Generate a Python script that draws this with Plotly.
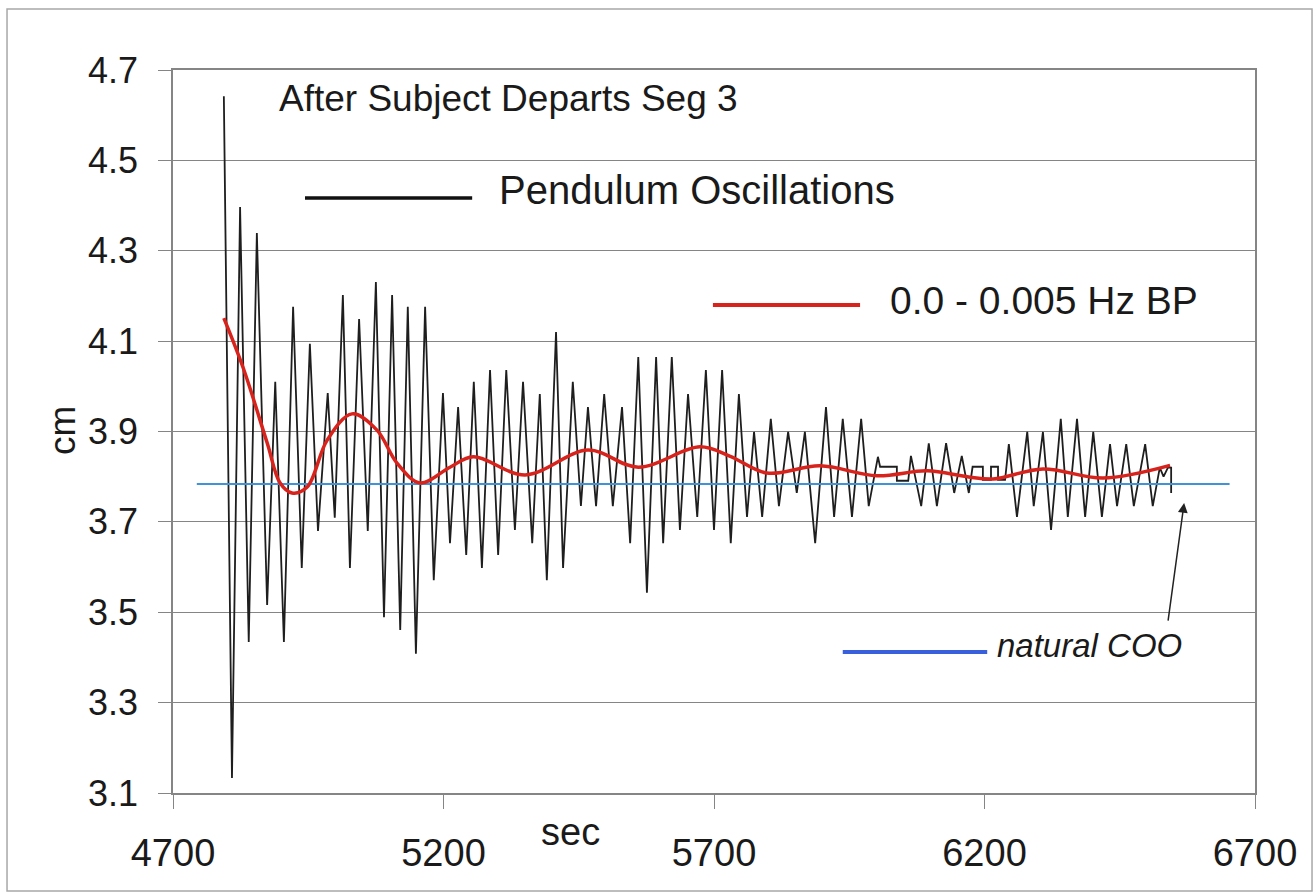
import plotly.graph_objects as go

# ---- data ----
osc_t = [4794, 4809, 4824, 4840, 4855, 4874, 4889, 4905, 4922, 4938,
         4953, 4968, 4986, 4999, 5014, 5027, 5044, 5060, 5075, 5090,
         5105, 5120, 5134, 5149, 5166, 5182, 5199, 5212, 5227, 5242,
         5256, 5271, 5286, 5301, 5316, 5332, 5347, 5364, 5378, 5391,
         5408, 5421, 5439, 5454, 5467, 5482, 5497, 5513, 5530, 5545,
         5560, 5576, 5593, 5606, 5622, 5637, 5652, 5669, 5685, 5700,
         5715, 5731, 5746, 5761, 5774, 5789, 5805, 5820, 5837, 5853,
         5868, 5887, 5907, 5922, 5938, 5955, 5972, 5986,
         6003, 6007, 6038, 6038, 6059, 6064, 6083, 6097, 6112, 6129,
         6144, 6158, 6171, 6178, 6197, 6197, 6212, 6212, 6225, 6225,
         6238, 6245, 6260, 6279, 6291, 6308, 6323, 6341, 6354, 6371,
         6386, 6401, 6417, 6432, 6445, 6462, 6476, 6497, 6511, 6524,
         6531, 6539, 6545, 6545]
osc_cm = [4.642, 3.133, 4.397, 3.434, 4.339, 3.516, 4.010, 3.434, 4.176, 3.598,
          4.094, 3.680, 3.985, 3.709, 4.202, 3.598, 4.149, 3.680, 4.231, 3.489,
          4.202, 3.461, 4.176, 3.408, 4.176, 3.571, 3.985, 3.653, 3.954, 3.627,
          4.010, 3.598, 4.036, 3.627, 4.036, 3.682, 4.010, 3.653, 3.983, 3.571,
          4.120, 3.598, 4.010, 3.735, 3.954, 3.735, 3.983, 3.735, 3.954, 3.653,
          4.065, 3.543, 4.065, 3.653, 4.065, 3.682, 3.983, 3.711, 4.036, 3.682,
          4.036, 3.653, 3.983, 3.711, 3.899, 3.711, 3.928, 3.735, 3.899, 3.764,
          3.899, 3.653, 3.954, 3.711, 3.928, 3.711, 3.928, 3.735,
          3.844, 3.822, 3.822, 3.791, 3.791, 3.846, 3.735, 3.874, 3.735, 3.874,
          3.764, 3.846, 3.764, 3.822, 3.822, 3.793, 3.793, 3.822, 3.822, 3.793,
          3.793, 3.872, 3.711, 3.899, 3.735, 3.899, 3.682, 3.928, 3.711, 3.928,
          3.711, 3.899, 3.711, 3.872, 3.735, 3.872, 3.735, 3.872, 3.735, 3.820,
          3.800, 3.820, 3.820, 3.764]

bp_t = [4794, 4830, 4874, 4898, 4920, 4948, 4985, 5031, 5077,
        5114, 5157, 5212, 5255, 5351, 5467, 5560, 5674, 5730, 5798,
        5896, 6001, 6094, 6168, 6216, 6308, 6419, 6543]
bp_cm = [4.151, 4.040, 3.875, 3.786, 3.764, 3.777, 3.881, 3.939, 3.903,
         3.830, 3.786, 3.821, 3.844, 3.804, 3.859, 3.821, 3.866, 3.845, 3.808,
         3.824, 3.802, 3.813, 3.800, 3.795, 3.817, 3.797, 3.825]

coo_t = [4744, 6653]
coo_cm = [3.784, 3.784]

x_ticks = [4700, 5200, 5700, 6200, 6700]
y_ticks = [3.1, 3.3, 3.5, 3.7, 3.9, 4.1, 4.3, 4.5, 4.7]

FONT = "Arial, Liberation Sans, sans-serif"
TXT = "#1a1a1a"
GRID = "#858585"

fig = go.Figure()
fig.add_trace(go.Scatter(x=osc_t, y=osc_cm, mode="lines",
                         line=dict(color="#1e1e1e", width=1.8), showlegend=False))
fig.add_trace(go.Scatter(x=coo_t, y=coo_cm, mode="lines",
                         line=dict(color="#3f93d6", width=2), showlegend=False))
fig.add_trace(go.Scatter(x=bp_t, y=bp_cm, mode="lines",
                         line=dict(color="#d8231c", width=3.5, shape="spline", smoothing=1.0),
                         showlegend=False))

# legend-like keys drawn in data space
fig.add_trace(go.Scatter(x=[4944, 5253], y=[4.417, 4.417], mode="lines",
                         line=dict(color="#111111", width=3.5), showlegend=False, hoverinfo="skip"))
fig.add_trace(go.Scatter(x=[5698, 5970], y=[4.180, 4.180], mode="lines",
                         line=dict(color="#d8231c", width=4), showlegend=False, hoverinfo="skip"))
fig.add_trace(go.Scatter(x=[5938, 6205], y=[3.412, 3.412], mode="lines",
                         line=dict(color="#3a5fdc", width=4), showlegend=False, hoverinfo="skip"))

ann = [
    dict(x=4892, y=4.637, text="After Subject Departs Seg 3", xanchor="left", yanchor="middle",
         showarrow=False, font=dict(size=37, color=TXT, family=FONT)),
    dict(x=5299, y=4.434, text="Pendulum Oscillations", xanchor="left", yanchor="middle",
         showarrow=False, font=dict(size=40, color=TXT, family=FONT)),
    dict(x=6022, y=4.191, text="0.0 - 0.005 Hz BP", xanchor="left", yanchor="middle",
         showarrow=False, font=dict(size=39, color=TXT, family=FONT)),
    dict(x=6219, y=3.427, text="<i>natural COO</i>", xanchor="left", yanchor="middle",
         showarrow=False, font=dict(size=33, color=TXT, family=FONT)),
    dict(x=6569, y=3.742, ax=6539, ay=3.478, xref="x", yref="y", axref="x", ayref="y",
         text="", showarrow=True, arrowhead=2, arrowsize=1.3, arrowwidth=1.5, arrowcolor="#222"),
    dict(x=-0.1026, y=0.502, xref="paper", yref="paper", text="cm", textangle=-90,
         xanchor="center", yanchor="middle",
         showarrow=False, font=dict(size=37, color=TXT, family=FONT)),
    dict(x=0.3678, y=-0.0539, xref="paper", yref="paper", text="sec",
         xanchor="center", yanchor="middle",
         showarrow=False, font=dict(size=38, color=TXT, family=FONT)),
]

fig.update_layout(
    width=1316, height=893,
    margin=dict(l=173, r=61, t=70, b=100),
    paper_bgcolor="white", plot_bgcolor="white",
    annotations=ann,
    shapes=[dict(type="rect", xref="paper", yref="paper",
                 x0=-0.1534, x1=1.0527, y0=-0.1356, y1=1.0844,
                 line=dict(color="#a8a8a8", width=1.5), fillcolor="rgba(0,0,0,0)", layer="below")],
    xaxis=dict(range=[4700, 6700], tickvals=x_ticks, ticktext=[str(v) for v in x_ticks],
               showgrid=False, zeroline=False, showline=True, linecolor=GRID, linewidth=1.5,
               mirror=True, ticks="outside", ticklen=14, tickcolor=GRID, tickwidth=1.3,
               ticklabelstandoff=12,
               tickfont=dict(size=38, color=TXT, family=FONT)),
    yaxis=dict(range=[3.1, 4.7], tickvals=y_ticks, ticktext=[f"{v:.1f}" for v in y_ticks],
               showgrid=True, gridcolor=GRID, gridwidth=1.2, zeroline=False,
               showline=True, linecolor=GRID, linewidth=1.5, mirror=True,
               ticks="outside", ticklen=13, tickcolor=GRID, tickwidth=1.3,
               ticklabelstandoff=13,
               tickfont=dict(size=36, color=TXT, family=FONT)),
)

fig.write_html("out.html")
